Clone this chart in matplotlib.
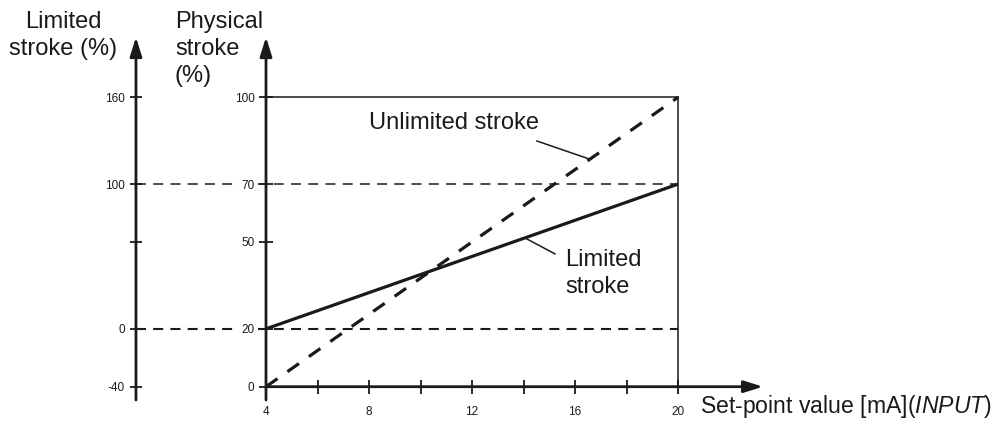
import matplotlib
matplotlib.use("Agg")
import matplotlib.pyplot as plt

plt.rcParams["font.family"] = ["Liberation Sans", "DejaVu Sans"]
plt.rcParams["mathtext.fontset"] = "custom"
plt.rcParams["mathtext.rm"] = "Liberation Sans"
plt.rcParams["mathtext.it"] = "Liberation Sans:italic"

# Data
setpoint = [4, 20]            # mA
unlimited_stroke = [0, 100]   # physical stroke %
limited_stroke = [20, 70]     # physical stroke %

x_ticks = [4, 6, 8, 10, 12, 14, 16, 18, 20]
x_ticklabels = ["4", "", "8", "", "12", "", "16", "", "20"]
phys_ticks = [0, 20, 50, 70, 100]
phys_ticklabels = ["0", "20", "50", "70", "100"]
lim_ticks = [-40, 0, 60, 100, 160]
lim_ticklabels = ["-40", "0", "", "100", "160"]
ref_levels = [20, 70]  # physical % = 0 and 100 % limited stroke

TXT = "#1a1a1a"
BIG = 17
SMALL = 8.5
LEFT_X = -1.05  # position of the limited-stroke axis in mA units

fig = plt.figure(figsize=(9.99, 4.21), dpi=100)
ax = fig.add_axes([266 / 999, (421 - 386.7) / 421, 412 / 999, 289.4 / 421])
ax.set_xlim(4, 20)
ax.set_ylim(0, 100)
for s in ax.spines.values():
    s.set_visible(False)
ax.set_axisbelow(False)

# Box and reference lines
ax.plot([4, 20], [100, 100], color=TXT, lw=1.1, clip_on=False)
ax.plot([20, 20], [0, 100], color=TXT, lw=1.1, clip_on=False)
ref_widths = {20: 1.5, 70: 1.1}
for lv in ref_levels:
    w = ref_widths[lv]
    ax.plot([LEFT_X, 20], [lv, lv], color=TXT, lw=w, clip_on=False,
            linestyle=(0, (7.2 / w, 5.2 / w)))

# Stroke lines
ax.plot(setpoint, unlimited_stroke, color=TXT, lw=2.3, clip_on=False,
        linestyle=(0, (4.4, 3.8)))
ax.plot(setpoint, limited_stroke, color=TXT, lw=2.3, clip_on=False,
        solid_capstyle="butt")

# Axis arrows
arrow = dict(arrowstyle="-|>,head_length=1.15,head_width=0.36", lw=2,
             color=TXT, shrinkA=0, shrinkB=0, mutation_scale=10)
ax.annotate("", xy=(4, 120.8), xytext=(4, -4.6), arrowprops=arrow,
            annotation_clip=False)
ax.annotate("", xy=(LEFT_X, 120.8), xytext=(LEFT_X, -4.6), arrowprops=arrow,
            annotation_clip=False)
ax.annotate("", xy=(23.3, 0), xytext=(4, 0), arrowprops=arrow,
            annotation_clip=False)

# Ticks
ax.set_xticks(x_ticks)
ax.set_xticklabels(x_ticklabels)
ax.set_yticks(phys_ticks)
ax.set_yticklabels(phys_ticklabels)
ax.tick_params(axis="x", direction="inout", length=9.4, width=1.3,
               pad=9, labelsize=SMALL, colors=TXT)
ax.tick_params(axis="y", direction="inout", length=9.4, width=1.3,
               pad=3.5, labelsize=SMALL, colors=TXT)
for lbl in ax.get_yticklabels():
    lbl.set_bbox(dict(facecolor="white", edgecolor="none", pad=2.2))

sec = ax.secondary_yaxis((LEFT_X - 4) / 16,
                         functions=(lambda p: 2 * (p - 20), lambda l: l / 2 + 20))
sec.spines["left"].set_visible(False)
sec.set_yticks(lim_ticks)
sec.set_yticklabels(lim_ticklabels)
sec.tick_params(direction="inout", length=8, width=1.3, pad=4,
                labelsize=SMALL, colors=TXT)

# Annotations
ax.text(11.3, 91.1, "Unlimited stroke", fontsize=BIG, color=TXT,
        ha="center", va="center")
ax.plot([14.52, 16.58], [84.9, 78.6], color=TXT, lw=1.1, clip_on=False)
ax.text(15.61, 39.0, "Limited\nstroke", fontsize=BIG, color=TXT,
        ha="left", va="center", linespacing=1.3)
ax.plot([14.06, 15.22], [51.4, 45.9], color=TXT, lw=1.1, clip_on=False)

ax.text(20.85, -6.7, "Set-point value [mA]($\\mathit{INPUT}$)", fontsize=16.6,
        color=TXT, ha="left", va="center")

# Axis titles
fig.text(63 / 999, 1 - 11 / 421, "Limited\nstroke (%)", fontsize=BIG,
         color=TXT, ha="center", va="top", linespacing=1.3)
fig.text(175 / 999, 1 - 11 / 421, "Physical\nstroke\n(%)", fontsize=BIG,
         color=TXT, ha="left", va="top", linespacing=1.3)

fig.savefig("out.png", dpi=100)
